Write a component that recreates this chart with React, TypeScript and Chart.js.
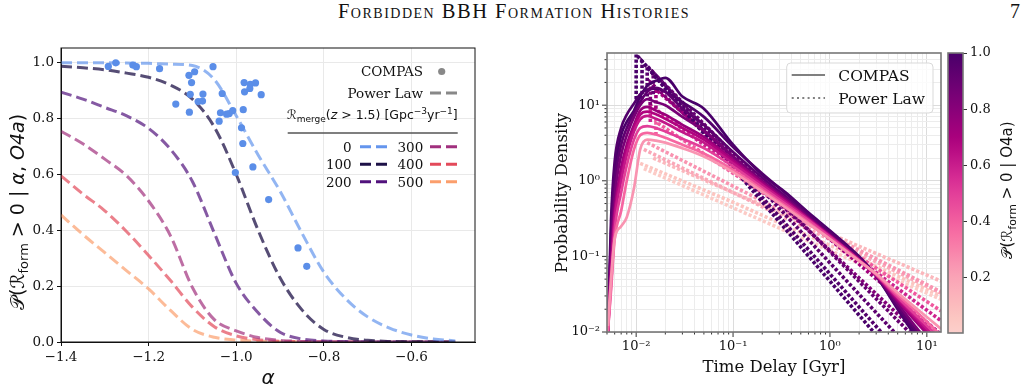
import React, { useEffect, useRef } from 'react';
import { Chart, registerables } from 'chart.js';
Chart.register(...registerables);

// ---------------- Left panel data ----------------
const ALPHA = [-1.4, -1.35, -1.3, -1.25, -1.2, -1.15, -1.1, -1.05, -1.0, -0.95, -0.9, -0.85, -0.8, -0.75, -0.7, -0.65, -0.6, -0.55, -0.5];
const RATE_LABELS = ['0', '100', '200', '300', '400', '500'];
const P_RATE_0 = [1.0, 1.0, 1.0, 0.999, 0.998, 0.995, 0.99, 0.94, 0.81, 0.67, 0.54, 0.39, 0.25, 0.155, 0.09, 0.05, 0.025, 0.011, 0.004];
const P_RATE_100 = [0.988, 0.982, 0.975, 0.963, 0.948, 0.92, 0.87, 0.77, 0.6, 0.4, 0.23, 0.115, 0.045, 0.017, 0.006, 0.002, 0.001, 0.0005, 0.0002];
const P_RATE_200 = [0.895, 0.87, 0.84, 0.81, 0.765, 0.69, 0.575, 0.39, 0.21, 0.105, 0.035, 0.011, 0.004, 0.0015, 0.0005, 0.0002, 0.0001, 0.0, 0.0];
const P_RATE_300 = [0.755, 0.71, 0.655, 0.595, 0.505, 0.38, 0.195, 0.08, 0.04, 0.016, 0.006, 0.002, 0.001, 0.0005, 0.0002, 0.0, 0.0, 0.0, 0.0];
const P_RATE_400 = [0.595, 0.53, 0.47, 0.395, 0.31, 0.22, 0.125, 0.055, 0.022, 0.008, 0.003, 0.001, 0.0005, 0.0002, 0.0, 0.0, 0.0, 0.0, 0.0];
const P_RATE_500 = [0.455, 0.385, 0.32, 0.255, 0.19, 0.113, 0.045, 0.017, 0.007, 0.003, 0.001, 0.0005, 0.0002, 0.0, 0.0, 0.0, 0.0, 0.0, 0.0];
const COMPAS_ALPHA = [-1.292, -1.275, -1.236, -1.228, -1.175, -1.053, -1.108, -1.095, -1.102, -1.105, -1.076, -1.138, -1.087, -1.077, -1.107, -1.032, -1.036, -1.039, -1.022, -1.016, -1.008, -0.984, -0.982, -0.968, -0.969, -0.956, -0.981, -0.943, -0.988, -0.985, -0.962, -1.002, -0.926, -0.859, -0.839];
const COMPAS_PROB = [0.987, 1.0, 0.992, 0.986, 0.979, 0.986, 0.955, 0.968, 0.929, 0.887, 0.888, 0.852, 0.861, 0.863, 0.823, 0.89, 0.821, 0.791, 0.816, 0.818, 0.829, 0.832, 0.929, 0.923, 0.908, 0.928, 0.896, 0.886, 0.767, 0.711, 0.627, 0.607, 0.51, 0.337, 0.271];
const ALPHA_TICKS = [-1.4, -1.2, -1.0, -0.8, -0.6];
const PROB_TICKS = [0, 0.2, 0.4, 0.6, 0.8, 1.0];

// ---------------- Right panel data ----------------
const T_COMPAS = [0.0051, 0.0055, 0.006, 0.007, 0.008, 0.0095, 0.011, 0.013, 0.016, 0.02, 0.03, 0.05, 0.1, 0.2, 0.35, 0.6, 1, 2, 3, 5, 8, 14];
const COMPAS_COLOR_P = [0.25, 0.38, 0.5, 0.62, 0.68, 0.75, 0.85, 0.93, 0.97, 1.0];
const COMPAS_PDF_A = [0.012, 0.05, 0.17, 0.25, 0.33, 0.8, 2.6, 3.5, 3.4, 3.2, 2.7, 2.1, 1.3, 0.72, 0.44, 0.27, 0.17, 0.087, 0.059, 0.033, 0.02, 0.011];
const COMPAS_PDF_B = [0.01, 0.035, 0.17, 0.4, 1.0, 2.6, 4.0, 4.3, 4.1, 3.7, 3.0, 2.3, 1.4, 0.76, 0.46, 0.28, 0.17, 0.087, 0.058, 0.031, 0.018, 0.009];
const COMPAS_PDF_C = [0.01, 0.04, 0.22, 0.7, 1.6, 3.5, 5.0, 5.3, 5.0, 4.5, 3.6, 2.7, 1.55, 0.82, 0.49, 0.3, 0.18, 0.088, 0.057, 0.029, 0.016, 0.008];
const COMPAS_PDF_D = [0.01, 0.05, 0.3, 1.0, 2.2, 4.5, 6.5, 7.2, 6.6, 5.8, 4.4, 3.2, 1.7, 0.88, 0.52, 0.31, 0.185, 0.09, 0.057, 0.028, 0.015, 0.007];
const COMPAS_PDF_E = [0.01, 0.06, 0.35, 1.2, 2.6, 5.0, 7.5, 8.2, 7.6, 6.6, 5.0, 3.5, 1.8, 0.9, 0.53, 0.31, 0.185, 0.09, 0.056, 0.027, 0.014, 0.0065];
const COMPAS_PDF_F = [0.01, 0.07, 0.4, 1.5, 3.0, 5.5, 8.5, 9.5, 8.5, 7.5, 5.5, 3.8, 1.9, 0.95, 0.55, 0.32, 0.19, 0.09, 0.056, 0.026, 0.013, 0.006];
const COMPAS_PDF_G = [0.01, 0.1, 0.6, 2.2, 4.0, 7.0, 10, 12, 11, 10, 7.0, 4.6, 2.1, 1.0, 0.58, 0.33, 0.19, 0.09, 0.055, 0.024, 0.011, 0.005];
const COMPAS_PDF_H = [0.009, 0.15, 0.9, 3.0, 5.0, 8.0, 11, 15, 17, 15, 9.0, 5.5, 2.4, 1.1, 0.62, 0.35, 0.2, 0.095, 0.055, 0.022, 0.01, 0.004];
const COMPAS_PDF_I = [0.01, 0.3, 1.8, 5.0, 7.5, 10.5, 14, 16, 16.5, 15, 11, 7.0, 2.8, 1.25, 0.68, 0.37, 0.21, 0.097, 0.055, 0.021, 0.009, 0.0035];
const COMPAS_PDF_J = [0.008, 0.2, 1.2, 4.0, 6.0, 8.5, 13, 18, 21, 23, 13, 9.0, 3.0, 1.2, 0.7, 0.38, 0.22, 0.1, 0.055, 0.02, 0.008, 0.003];

const PL_COLOR_P = [1.0, 0.97, 0.94, 0.9, 0.82, 0.72, 0.58, 0.42, 0.25, 0.18, 0.12, 0.03, 0.06];
const PL_T_1 = [0.01, 0.01, 0.1, 1, 3];
const PL_PDF_1 = [12, 47, 1.49, 0.047, 0.0091];
const PL_T_2 = [0.0115, 0.0115, 0.1, 1, 4];
const PL_PDF_2 = [12, 38, 1.65, 0.0585, 0.0078];
const PL_T_3 = [0.013, 0.013, 0.1, 1, 5];
const PL_PDF_3 = [13, 33, 1.98, 0.082, 0.0089];
const PL_T_4 = [0.015, 0.015, 0.1, 1, 8];
const PL_PDF_4 = [14, 27, 2.29, 0.115, 0.0077];
const PL_T_5 = [0.014, 0.014, 0.1, 1, 10];
const PL_PDF_5 = [10, 20, 1.89, 0.119, 0.0075];
const PL_T_6 = [0.016, 0.016, 0.1, 1, 14];
const PL_PDF_6 = [9, 16, 2.13, 0.169, 0.0093];
const PL_T_7 = [0.014, 0.014, 0.1, 1, 14];
const PL_PDF_7 = [6, 10, 1.545, 0.174, 0.0141];
const PL_T_8 = [0.016, 0.016, 0.1, 1, 14];
const PL_PDF_8 = [4, 6, 1.26, 0.178, 0.019];
const PL_T_9 = [0.013, 0.1, 1, 14];
const PL_PDF_9 = [3.2, 0.85, 0.19, 0.034];
const PL_T_10 = [0.012, 0.1, 1, 14];
const PL_PDF_10 = [2.6, 0.7, 0.167, 0.0326];
const PL_T_11 = [0.015, 0.1, 1, 14];
const PL_PDF_11 = [2.0, 0.7, 0.199, 0.047];
const PL_T_12 = [0.012, 0.1, 1, 14];
const PL_PDF_12 = [1.45, 0.44, 0.12, 0.027];
const PL_T_13 = [0.011, 0.1, 1, 14];
const PL_PDF_13 = [1.7, 0.52, 0.14, 0.03];

const TD_TICKS = [0.005, 0.006, 0.007, 0.008, 0.009, 0.01, 0.02, 0.03, 0.04, 0.05, 0.06, 0.07, 0.08, 0.09, 0.1, 0.2, 0.3, 0.4, 0.5, 0.6, 0.7, 0.8, 0.9, 1, 2, 3, 4, 5, 6, 7, 8, 9, 10];
const PD_TICKS = [0.01, 0.02, 0.03, 0.04, 0.05, 0.06, 0.07, 0.08, 0.09, 0.1, 0.2, 0.3, 0.4, 0.5, 0.6, 0.7, 0.8, 0.9, 1, 2, 3, 4, 5, 6, 7, 8, 9, 10, 20, 30, 40];
const CB_TICKS = [0.2, 0.4, 0.6, 0.8, 1.0];

// ---------------- helpers ----------------
const RDPU = ['#fff7f3', '#fde0dd', '#fcc5c0', '#fa9fb5', '#f768a1', '#dd3497', '#ae017e', '#7a0177', '#49006a'];
function hex(h: string) { return [parseInt(h.slice(1, 3), 16), parseInt(h.slice(3, 5), 16), parseInt(h.slice(5, 7), 16)]; }
function rdpu(p: number) {
  const s = 0.2 + 0.8 * Math.max(0, Math.min(1, p));
  const f = s * 8;
  const i = Math.min(7, Math.floor(f));
  const t = f - i;
  const a = hex(RDPU[i]), b = hex(RDPU[i + 1]);
  const c = a.map((v, k) => Math.round(v + (b[k] - v) * t));
  return `rgb(${c[0]},${c[1]},${c[2]})`;
}
const isPow10 = (v: number) => Math.abs(Math.log10(v) - Math.round(Math.log10(v))) < 1e-9;
const SUP: Record<string, string> = { '-2': '10\u207B\u00B2', '-1': '10\u207B\u00B9', '0': '10\u2070', '1': '10\u00B9' };

type Run = { t: string; f: string; dy?: number };
function drawRuns(ctx: CanvasRenderingContext2D, runs: Run[], x: number, y: number, align: 'left' | 'center' | 'right', angle = 0, color = '#111') {
  ctx.save();
  ctx.translate(x, y);
  if (angle) ctx.rotate(angle);
  ctx.fillStyle = color;
  ctx.textBaseline = 'alphabetic';
  ctx.textAlign = 'left';
  let w = 0;
  const ws = runs.map((r) => { ctx.font = r.f; const m = ctx.measureText(r.t).width; w += m; return m; });
  let cx = align === 'left' ? 0 : align === 'center' ? -w / 2 : -w;
  runs.forEach((r, i) => { ctx.font = r.f; ctx.fillText(r.t, cx, r.dy || 0); cx += ws[i]; });
  ctx.restore();
}
function dashLine(ctx: CanvasRenderingContext2D, x1: number, x2: number, y: number, color: string, w: number, dash: number[]) {
  ctx.save();
  ctx.strokeStyle = color; ctx.lineWidth = w; ctx.setLineDash(dash);
  ctx.beginPath(); ctx.moveTo(x1, y); ctx.lineTo(x2, y); ctx.stroke();
  ctx.restore();
}

const SERIF = '"DejaVu Serif", serif';
const SANS = '"DejaVu Sans", sans-serif';

const LINE_COLORS = ['rgba(100,149,237,0.7)', 'rgba(29,17,71,0.75)', 'rgba(81,18,124,0.7)', 'rgba(161,48,126,0.7)', 'rgba(227,74,90,0.7)', 'rgba(251,158,108,0.7)'];
const LEGEND_COLORS = ['#6495ed', '#1d1147', '#51127c', '#a1307e', '#e34a5a', '#fb9e6c'];

function leftConfig(): any {
  const series = [P_RATE_0, P_RATE_100, P_RATE_200, P_RATE_300, P_RATE_400, P_RATE_500];
  const datasets: any[] = [
    {
      data: COMPAS_ALPHA.map((a, i) => ({ x: a, y: COMPAS_PROB[i] })),
      showLine: false, pointRadius: 3.6, pointBackgroundColor: '#5b8ee8', pointBorderWidth: 0,
    },
    ...series.map((s, k) => ({
      data: ALPHA.map((a, i) => ({ x: a, y: s[i] })),
      borderColor: LINE_COLORS[k], borderWidth: 3, borderDash: [11, 5], pointRadius: 0,
      cubicInterpolationMode: 'monotone', fill: false,
    })),
  ];
  const plugin = {
    id: 'leftDeco',
    afterDraw(chart: any) {
      const ctx = chart.ctx as CanvasRenderingContext2D;
      const a = chart.chartArea;
      ctx.save();
      ctx.strokeStyle = '#111'; ctx.lineWidth = 1;
      ctx.strokeRect(a.left, a.top, a.right - a.left, a.bottom - a.top);
      ctx.restore();
      // legend
      const nf = `13.5px ${SERIF}`;
      drawRuns(ctx, [{ t: 'COMPAS', f: nf }], 423, 46, 'right');
      ctx.save(); ctx.fillStyle = '#888'; ctx.beginPath(); ctx.arc(441.7, 41.5, 3.6, 0, Math.PI * 2); ctx.fill(); ctx.restore();
      drawRuns(ctx, [{ t: 'Power Law', f: nf }], 423, 67.5, 'right');
      dashLine(ctx, 430, 457.7, 63, '#888', 3, [11, 5]);
      const f13 = `12.5px ${SANS}`, f9 = `9px ${SANS}`;
      drawRuns(ctx, [
        { t: '\u211B', f: f13 }, { t: 'merge', f: f9, dy: 3 }, { t: '(', f: f13 }, { t: 'z', f: `italic 12.5px ${SANS}` },
        { t: ' > 1.5) [Gpc', f: f13 }, { t: '\u22123', f: f9, dy: -5 }, { t: 'yr', f: f13 }, { t: '\u22121', f: f9, dy: -5 }, { t: ']', f: f13 },
      ], 457.7, 89, 'right');
      ctx.save(); ctx.strokeStyle = '#555'; ctx.lineWidth = 1.5; ctx.beginPath(); ctx.moveTo(287.7, 103); ctx.lineTo(457.7, 103); ctx.stroke(); ctx.restore();
      const rowsY = [116.7, 134.3, 151.7];
      for (let k = 0; k < 6; k++) {
        const col = k < 3 ? 0 : 1;
        const y = rowsY[k % 3];
        const xr = col === 0 ? 351.7 : 423.3;
        const xd = col === 0 ? 360 : 430;
        drawRuns(ctx, [{ t: RATE_LABELS[k], f: nf }], xr, y + 4.8, 'right');
        dashLine(ctx, xd, xd + 27.7, y, LEGEND_COLORS[k], 3, [11, 5]);
      }
      // axis labels
      const f17 = `19px ${SANS}`, fi17 = `italic 19px ${SANS}`;
      drawRuns(ctx, [
        { t: '\uD835\uDCAB', f: f17 }, { t: '(', f: f17 }, { t: '\u211B', f: f17 }, { t: 'form', f: `13px ${SANS}`, dy: 4 },
        { t: ' > 0 | ', f: f17 }, { t: '\u03B1', f: fi17 }, { t: ', ', f: f17 }, { t: 'O4a', f: fi17 }, { t: ')', f: f17 },
      ], 24, 182, 'center', -Math.PI / 2);
      drawRuns(ctx, [{ t: '\u03B1', f: `italic 20px ${SANS}` }], 268, 354, 'center');
    },
  };
  return {
    type: 'line',
    data: { datasets },
    plugins: [plugin],
    options: {
      responsive: false, animation: false, events: [],
      layout: { padding: { top: 18, right: 25, left: 0, bottom: 0 } },
      plugins: { legend: { display: false }, tooltip: { enabled: false } },
      scales: {
        x: {
          type: 'linear', min: -1.4, max: -0.455,
          afterBuildTicks: (s: any) => { s.ticks = ALPHA_TICKS.map((v) => ({ value: v })); },
          afterFit: (s: any) => { s.height = 47; },
          ticks: { callback: (v: number) => (v < 0 ? '\u2212' : '') + Math.abs(v).toFixed(1), color: '#111', font: { family: SERIF, size: 13.5 }, padding: 3, maxRotation: 0, autoSkip: false },
          grid: { color: '#e9e9e9', tickColor: '#111', tickLength: 4, drawTicks: true },
          border: { display: true, color: '#111' },
        },
        y: {
          type: 'linear', min: 0, max: 1.053,
          afterBuildTicks: (s: any) => { s.ticks = PROB_TICKS.map((v) => ({ value: v })); },
          afterFit: (s: any) => { s.width = 61; },
          ticks: { callback: (v: number) => v.toFixed(1), color: '#111', font: { family: SERIF, size: 13.5 }, padding: 3, autoSkip: false },
          grid: { color: '#e9e9e9', tickColor: '#111', tickLength: 4, drawTicks: true },
          border: { display: true, color: '#111' },
        },
      },
    },
  };
}

function rightConfig(): any {
  const comp = [COMPAS_PDF_A, COMPAS_PDF_B, COMPAS_PDF_C, COMPAS_PDF_D, COMPAS_PDF_E, COMPAS_PDF_F, COMPAS_PDF_G, COMPAS_PDF_H, COMPAS_PDF_I, COMPAS_PDF_J];
  const plT = [PL_T_1, PL_T_2, PL_T_3, PL_T_4, PL_T_5, PL_T_6, PL_T_7, PL_T_8, PL_T_9, PL_T_10, PL_T_11, PL_T_12, PL_T_13];
  const plY = [PL_PDF_1, PL_PDF_2, PL_PDF_3, PL_PDF_4, PL_PDF_5, PL_PDF_6, PL_PDF_7, PL_PDF_8, PL_PDF_9, PL_PDF_10, PL_PDF_11, PL_PDF_12, PL_PDF_13];
  const datasets: any[] = [
    ...comp.map((s, k) => ({
      data: T_COMPAS.map((t, i) => ({ x: t, y: s[i] })),
      borderColor: rdpu(COMPAS_COLOR_P[k]), borderWidth: 2.7, pointRadius: 0, cubicInterpolationMode: 'monotone', fill: false,
    })),
    ...plT.map((T, k) => ({
      data: T.map((t, i) => ({ x: t, y: plY[k][i] })),
      borderColor: rdpu(PL_COLOR_P[k]), borderWidth: 3.6, borderDash: [3.2, 2], pointRadius: 0, tension: 0, fill: false,
    })),
  ];
  const plugin = {
    id: 'rightDeco',
    afterDraw(chart: any) {
      const ctx = chart.ctx as CanvasRenderingContext2D;
      const a = chart.chartArea;
      const xs = chart.scales.x, ys = chart.scales.y;
      ctx.save();
      ctx.strokeStyle = '#333'; ctx.lineWidth = 1;
      TD_TICKS.forEach((v) => { const p = xs.getPixelForValue(v); const L = isPow10(v) ? 5 : 2.5; ctx.beginPath(); ctx.moveTo(p, a.bottom); ctx.lineTo(p, a.bottom + L); ctx.stroke(); });
      PD_TICKS.forEach((v) => { const p = ys.getPixelForValue(v); const L = isPow10(v) ? 5 : 2.5; ctx.beginPath(); ctx.moveTo(a.left, p); ctx.lineTo(a.left - L, p); ctx.stroke(); });
      ctx.strokeStyle = '#777'; ctx.lineWidth = 1.6;
      ctx.strokeRect(a.left, a.top, a.right - a.left, a.bottom - a.top);
      ctx.restore();
      // legend box
      ctx.save();
      ctx.fillStyle = 'rgba(255,255,255,0.8)'; ctx.strokeStyle = '#d9d9d9'; ctx.lineWidth = 1;
      ctx.beginPath(); (ctx as any).roundRect(256.7, 33, 146.3, 50, 4); ctx.fill(); ctx.stroke();
      ctx.restore();
      dashLine(ctx, 261.7, 295, 45, '#808080', 2, []);
      dashLine(ctx, 261.7, 295, 68, '#808080', 2, [2, 3.3]);
      const lf = `15.5px ${SERIF}`;
      drawRuns(ctx, [{ t: 'COMPAS', f: lf }], 308.3, 50.5, 'left');
      drawRuns(ctx, [{ t: 'Power Law', f: lf }], 308.3, 73.5, 'left');
      drawRuns(ctx, [{ t: 'Probability Density', f: `16.5px ${SERIF}` }], 37, 163, 'center', -Math.PI / 2);
      drawRuns(ctx, [{ t: 'Time Delay [Gyr]', f: `16.5px ${SERIF}` }], 244, 342, 'center');
    },
  };
  const tickFont = { family: SERIF, size: 13 };
  return {
    type: 'line',
    data: { datasets },
    plugins: [plugin],
    options: {
      responsive: false, animation: false, events: [],
      layout: { padding: { top: 23, right: 9, left: 0, bottom: 0 } },
      plugins: { legend: { display: false }, tooltip: { enabled: false } },
      scales: {
        x: {
          type: 'logarithmic', min: 0.005, max: 14,
          afterBuildTicks: (s: any) => { s.ticks = TD_TICKS.map((v) => ({ value: v, major: isPow10(v) })); },
          afterFit: (s: any) => { s.height = 57; },
          ticks: { callback: (v: number) => (isPow10(v) ? SUP[String(Math.round(Math.log10(v)))] || '' : ''), color: '#111', font: tickFont, padding: 7, maxRotation: 0, autoSkip: false },
          grid: { color: (c: any) => (c.tick && c.tick.major ? '#dcdcdc' : '#ececec'), drawTicks: false },
          border: { display: false },
        },
        y: {
          type: 'logarithmic', min: 0.01, max: 49,
          afterBuildTicks: (s: any) => { s.ticks = PD_TICKS.map((v) => ({ value: v, major: isPow10(v) })); },
          afterFit: (s: any) => { s.width = 77; },
          ticks: { callback: (v: number) => (isPow10(v) ? SUP[String(Math.round(Math.log10(v)))] || '' : ''), color: '#111', font: tickFont, padding: 7, autoSkip: false },
          grid: { color: (c: any) => (c.tick && c.tick.major ? '#dcdcdc' : '#ececec'), drawTicks: false },
          border: { display: false },
        },
      },
    },
  };
}

function cbConfig(): any {
  const plugin = {
    id: 'cbDeco',
    beforeDatasetsDraw(chart: any) {
      const ctx = chart.ctx as CanvasRenderingContext2D;
      const a = chart.chartArea;
      const ys = chart.scales.y;
      const g = ctx.createLinearGradient(0, a.bottom, 0, a.top);
      const lo = ys.min, hi = ys.max;
      for (let k = 0; k <= 20; k++) { const v = lo + (hi - lo) * k / 20; g.addColorStop(k / 20, rdpu(v)); }
      ctx.save(); ctx.fillStyle = g; ctx.fillRect(a.left, a.top, a.right - a.left, a.bottom - a.top); ctx.restore();
    },
    afterDraw(chart: any) {
      const ctx = chart.ctx as CanvasRenderingContext2D;
      const a = chart.chartArea;
      ctx.save(); ctx.strokeStyle = '#777'; ctx.lineWidth = 1.6;
      ctx.strokeRect(a.left, a.top, a.right - a.left, a.bottom - a.top); ctx.restore();
      const f = `15px ${SANS}`;
      drawRuns(ctx, [
        { t: '\uD835\uDCAB', f }, { t: '(', f }, { t: '\u211B', f }, { t: 'form', f: `11px ${SANS}`, dy: 4 }, { t: ' > 0 | O4a)', f },
      ], 72, 160, 'center', -Math.PI / 2);
    },
  };
  return {
    type: 'line',
    data: { datasets: [{ data: [] }] },
    plugins: [plugin],
    options: {
      responsive: false, animation: false, events: [],
      layout: { padding: { top: 23, right: 0, left: 8, bottom: 56 } },
      plugins: { legend: { display: false }, tooltip: { enabled: false } },
      scales: {
        x: { type: 'linear', display: false, min: 0, max: 1 },
        y: {
          type: 'linear', position: 'right', min: 0.004, max: 1.0,
          afterBuildTicks: (s: any) => { s.ticks = CB_TICKS.map((v) => ({ value: v })); },
          afterFit: (s: any) => { s.width = 65; },
          ticks: { callback: (v: number) => v.toFixed(1), color: '#111', font: { family: SERIF, size: 13 }, padding: 3, autoSkip: false },
          grid: { drawOnChartArea: false, tickColor: '#333', tickLength: 4, drawTicks: true },
          border: { display: false },
        },
      },
    },
  };
}

export default function App() {
  const leftRef = useRef<HTMLCanvasElement>(null);
  const rightRef = useRef<HTMLCanvasElement>(null);
  const cbRef = useRef<HTMLCanvasElement>(null);
  useEffect(() => {
    const charts: Chart[] = [];
    if (leftRef.current) charts.push(new Chart(leftRef.current, leftConfig()));
    if (rightRef.current) charts.push(new Chart(rightRef.current, rightConfig()));
    if (cbRef.current) charts.push(new Chart(cbRef.current, cbConfig()));
    return () => charts.forEach((c) => c.destroy());
  }, []);
  return (
    <div style={{ position: 'fixed', left: 0, top: 0, width: 1028, height: 389, background: '#fff', overflow: 'hidden' }}>
      <div style={{ position: 'absolute', left: 0, top: 0, width: 1028, textAlign: 'center', fontFamily: '"Liberation Serif", serif', fontSize: 20.5, letterSpacing: 1.5, fontVariant: 'small-caps', color: '#111' }}>
        Forbidden BBH Formation Histories
      </div>
      <div style={{ position: 'absolute', left: 1010, top: 0, fontFamily: '"Liberation Serif", serif', fontSize: 20, color: '#111' }}>7</div>
      <canvas ref={leftRef} width={500} height={359} style={{ position: 'absolute', left: 0, top: 30 }} />
      <canvas ref={rightRef} width={420} height={359} style={{ position: 'absolute', left: 530, top: 30 }} />
      <canvas ref={cbRef} width={88} height={359} style={{ position: 'absolute', left: 940, top: 30 }} />
    </div>
  );
}
